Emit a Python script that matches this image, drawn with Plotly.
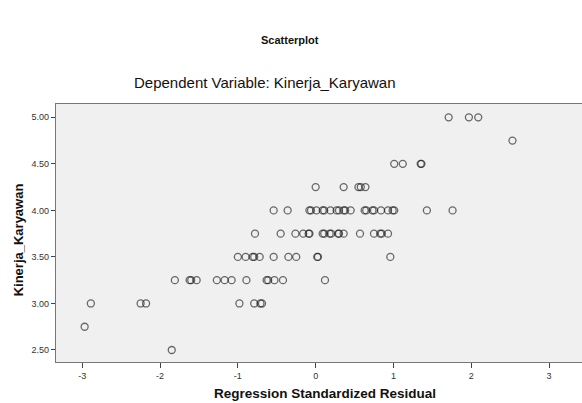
import plotly.graph_objects as go

# Data: (residual, Kinerja_Karyawan) grouped by y level
y_levels = [5.00, 4.75, 4.50, 4.25, 4.00, 3.75, 3.50, 3.25, 3.00, 2.75, 2.50]
x_5_00 = [1.71, 1.97, 2.09]
x_4_75 = [2.53]
x_4_50 = [1.01, 1.12, 1.35, 1.36]
x_4_25 = [0.00, 0.36, 0.55, 0.58, 0.64]
x_4_00 = [-0.54, -0.36, -0.08, -0.06, 0.01, 0.09, 0.11, 0.19, 0.27, 0.30, 0.36, 0.38,
          0.45, 0.63, 0.65, 0.73, 0.75, 0.84, 0.93, 0.99, 1.01, 1.43, 1.76]
x_3_75 = [-0.78, -0.45, -0.26, -0.16, -0.09, -0.08, 0.09, 0.11, 0.18, 0.20, 0.29, 0.30,
          0.36, 0.57, 0.75, 0.83, 0.85, 0.93]
x_3_50 = [-1.00, -0.90, -0.81, -0.79, -0.72, -0.54, -0.35, -0.25, 0.02, 0.03, 0.96]
x_3_25 = [-1.81, -1.62, -1.60, -1.53, -1.27, -1.17, -1.08, -0.89, -0.63, -0.61, -0.53,
          -0.42, 0.12]
x_3_00 = [-2.89, -2.25, -2.18, -0.98, -0.79, -0.71, -0.69]
x_2_75 = [-2.97]
x_2_50 = [-1.85]

groups = [x_5_00, x_4_75, x_4_50, x_4_25, x_4_00, x_3_75, x_3_50, x_3_25, x_3_00, x_2_75, x_2_50]

xs, ys = [], []
for yv, g in zip(y_levels, groups):
    xs.extend(g)
    ys.extend([yv] * len(g))

x_ticks = [-3, -2, -1, 0, 1, 2, 3]
y_ticks = [2.50, 3.00, 3.50, 4.00, 4.50, 5.00]
y_tick_labels = ["2.50", "3.00", "3.50", "4.00", "4.50", "5.00"]

fig = go.Figure()
fig.add_trace(go.Scatter(
    x=xs, y=ys, mode="markers",
    marker=dict(symbol="circle-open", size=7,
                line=dict(width=1.3), color="rgba(20,20,20,0.62)"),
    hoverinfo="x+y", showlegend=False,
))

font = "Liberation Sans, Arial, sans-serif"
fig.update_layout(
    width=582, height=403,
    margin=dict(l=56, r=0, t=104, b=41),
    paper_bgcolor="white",
    plot_bgcolor="#F0F0F0",
    font=dict(family=font, color="#222"),
    xaxis=dict(range=[-3.338, 3.424], tickvals=x_ticks, ticktext=[str(v) for v in x_ticks],
               showgrid=False, zeroline=False, showline=True, mirror=True,
               linecolor="#777", linewidth=1.3, ticks="outside", ticklen=5,
               tickcolor="#444", tickfont=dict(size=9, color="#333")),
    yaxis=dict(range=[2.371, 5.143], tickvals=y_ticks, ticktext=y_tick_labels,
               showgrid=False, zeroline=False, showline=True, mirror=False,
               linecolor="#777", linewidth=1.3, ticks="outside", ticklen=4,
               tickcolor="#444", tickfont=dict(size=9, color="#333")),
    annotations=[
        dict(text="<b>Scatterplot</b>", xref="paper", yref="paper", x=0.445, y=1.248,
             showarrow=False, font=dict(size=11, color="#111"), xanchor="center", yanchor="middle"),
        dict(text="Dependent Variable: Kinerja_Karyawan", xref="paper", yref="paper",
             x=0.397, y=1.085, showarrow=False, font=dict(size=15, color="#111"),
             xanchor="center", yanchor="middle"),
        dict(text="<b>Regression Standardized Residual</b>", xref="paper", yref="paper",
             x=0.511, y=-0.124, showarrow=False, font=dict(size=13.5, color="#111"),
             xanchor="center", yanchor="middle"),
        dict(text="<b>Kinerja_Karyawan</b>", xref="paper", yref="paper",
             x=-0.072, y=0.472, showarrow=False, textangle=-90,
             font=dict(size=13, color="#111"), xanchor="center", yanchor="middle"),
    ],
)

fig.write_html(
    "out.html",
    config={"displayModeBar": False},
    post_script="document.body.style.margin='0';document.body.style.padding='0';"
                "document.body.style.overflow='hidden';",
)
